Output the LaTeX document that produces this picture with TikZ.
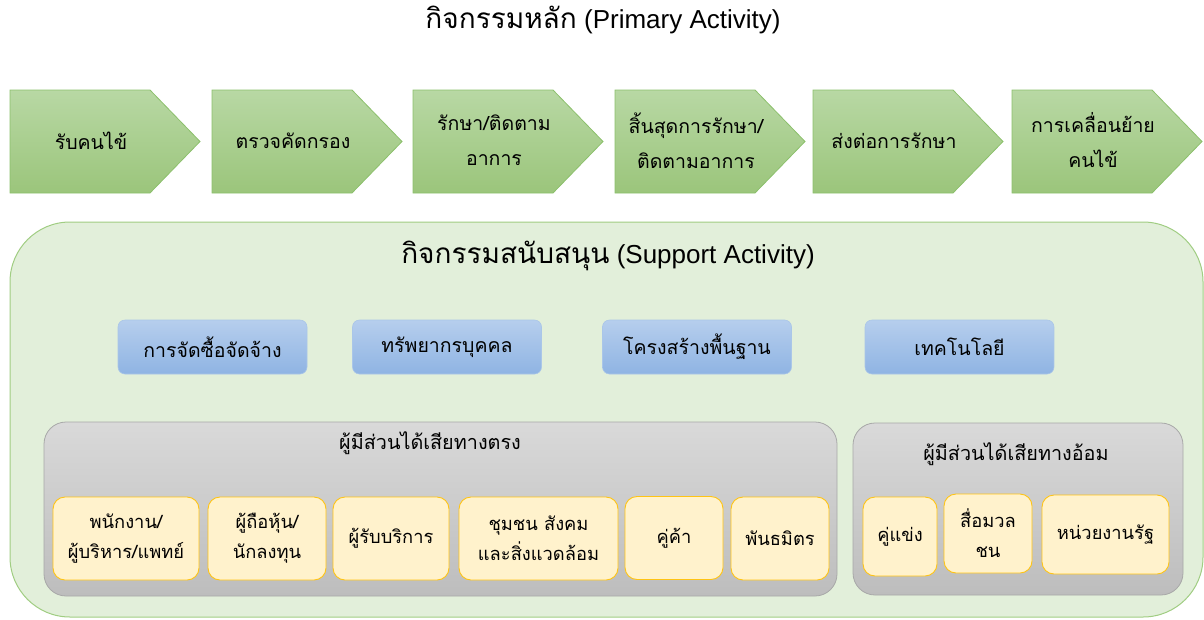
\documentclass[tikz,border=0pt]{standalone}
\usepackage{fontspec}
\setmainfont{Liberation Sans}
\newfontfamily\thai[Script=Thai]{Loma}
\definecolor{chevtop}{RGB}{184,216,164}
\definecolor{chevbot}{RGB}{155,197,123}
\definecolor{chevline}{RGB}{140,192,108}
\definecolor{supfill}{RGB}{226,239,218}
\definecolor{supline}{RGB}{160,205,130}
\definecolor{bluetop}{RGB}{182,206,237}
\definecolor{bluebot}{RGB}{143,180,227}
\definecolor{blueline}{RGB}{170,198,232}
\definecolor{graytop}{RGB}{217,217,217}
\definecolor{graybot}{RGB}{189,189,189}
\definecolor{grayline}{RGB}{168,168,168}
\definecolor{yelfill}{RGB}{255,242,204}
\definecolor{yelline}{RGB}{255,196,20}
\newcommand\mychev[3]{%
  \path[chev] (#2,90) -- ++(140,0) -- ++(50,51.5) -- ++(-50,51.5) -- ++(-140,0) -- cycle;
  \node[ctext] (#1) at (#2+81,140.5) {#3};
}
\newcommand\bigthai{\thai\fontsize{28}{30}\selectfont}
\tikzset{
  chev/.style={draw=chevline, line width=0.8pt, top color=chevtop, bottom color=chevbot},
  ctext/.style={font=\thai\fontsize{19.5}{35}\selectfont, align=center, text=black},
  titletext/.style={font=\fontsize{26}{30}\selectfont, text=black},
  support/.style={draw=supline, fill=supfill, line width=1pt, rounded corners=60pt},
  bluebox/.style={rounded corners=7pt, top color=bluetop, bottom color=bluebot, draw=blueline, line width=0.6pt,
    minimum width=189pt, minimum height=54pt, font=\thai\fontsize{19.5}{22}\selectfont, inner sep=0pt},
  graybox/.style={rounded corners=22pt, top color=graytop, bottom color=graybot, draw=grayline, line width=0.8pt, inner sep=0pt},
  graytitle/.style={font=\thai\fontsize{19.8}{22}\selectfont},
  yelbox/.style={rounded corners=12pt, fill=yelfill, draw=yelline, line width=0.9pt, inner sep=0pt,
    align=center, font=\thai\fontsize{18.3}{30}\selectfont},
}
\begin{document}
\begin{tikzpicture}[x=1pt,y=-1pt]
\useasboundingbox (0,0) rectangle (1204,619);
% title
\node[titletext] (title) at (603,20) {{\bigthai กิจกรรมหลัก} (Primary Activity)};
% chevrons
\mychev{c1}{10}{รับคนไข้}
\mychev{c2}{212}{ตรวจคัดกรอง}
\mychev{c3}{413}{รักษา/ติดตาม\\อาการ}
\mychev{c4}{615}{สิ้นสุดการรักษา/\\ติดตามอาการ}
\mychev{c5}{813}{ส่งต่อการรักษา}
\mychev{c6}{1012}{การเคลื่อนย้าย\\คนไข้}
% support box
\node[support, minimum width=1193pt, minimum height=395pt, inner sep=0pt] (sup) at (606.5,419.5) {};
\node[titletext] (suptitle) at (608,256) {{\bigthai กิจกรรมสนับสนุน} (Support Activity)};
% blue boxes
\node[bluebox] (b1) at (212.5,347) {การจัดซื้อจัดจ้าง};
\node[bluebox] (b2) at (447,347) {ทรัพยากรบุคคล};
\node[bluebox] (b3) at (697,347) {โครงสร้างพื้นฐาน};
\node[bluebox] (b4) at (959.5,347) {เทคโนโลยี};
% gray boxes
\node[graybox, minimum width=793pt, minimum height=174pt] (g1) at (440.5,509) {};
\node[graytitle] (g1t) at (430,443) {ผู้มีส่วนได้เสียทางตรง};
\node[graybox, minimum width=330pt, minimum height=172pt] (g2) at (1018,509) {};
\node[graytitle] (g2t) at (1016,454) {ผู้มีส่วนได้เสียทางอ้อม};
% yellow boxes direct
\node[yelbox, minimum width=146pt, minimum height=83pt] (y1) at (126,538.5) {พนักงาน/\\ผู้บริหาร/แพทย์};
\node[yelbox, minimum width=118pt, minimum height=83pt] (y2) at (267,538.5) {ผู้ถือหุ้น/\\นักลงทุน};
\node[yelbox, minimum width=116pt, minimum height=83pt] (y3) at (391,538.5) {ผู้รับบริการ};
\node[yelbox, minimum width=159pt, minimum height=83pt] (y4) at (538.5,538.5) {ชุมชน สังคม\\และสิ่งแวดล้อม};
\node[yelbox, minimum width=98pt, minimum height=83pt] (y5) at (674,538) {คู่ค้า};
\node[yelbox, minimum width=98pt, minimum height=83pt] (y6) at (780,538.5) {พันธมิตร};
% yellow boxes indirect
\node[yelbox, minimum width=74pt, minimum height=79pt] (z1) at (900,536.5) {คู่แข่ง};
\node[yelbox, minimum width=88pt, minimum height=79pt] (z2) at (988,533.5) {สื่อมวล\\ชน};
\node[yelbox, minimum width=127pt, minimum height=79pt] (z3) at (1105.5,534.5) {หน่วยงานรัฐ};
\end{tikzpicture}
\end{document}
